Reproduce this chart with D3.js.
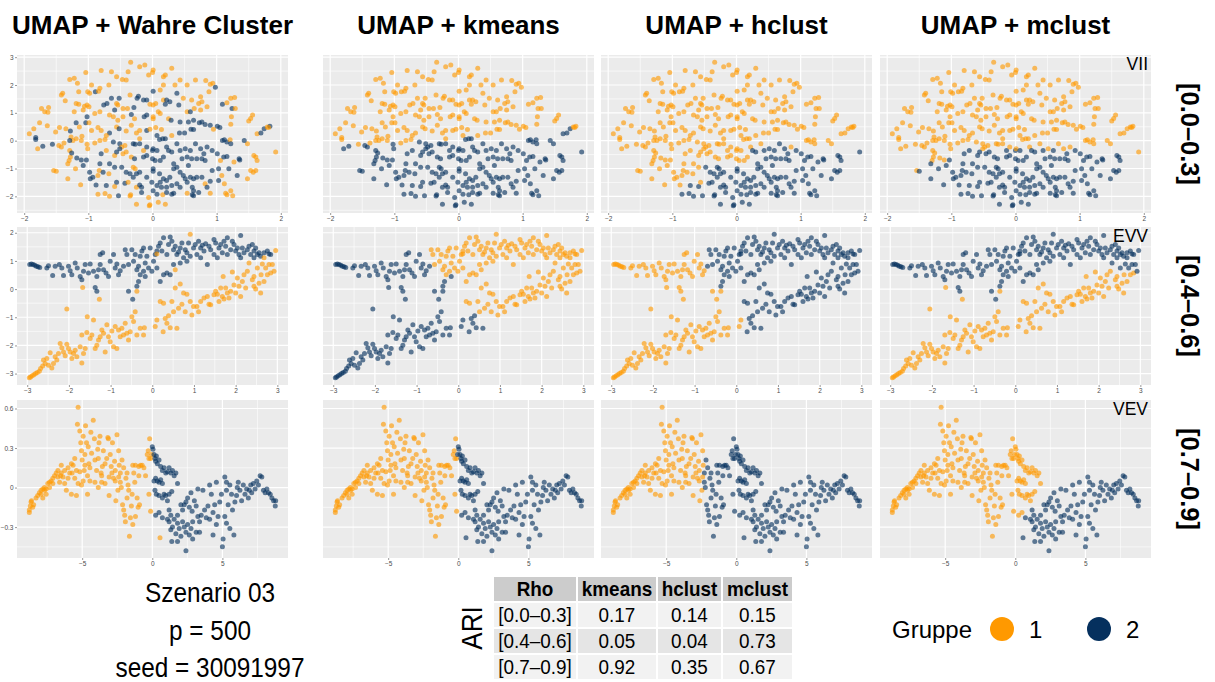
<!DOCTYPE html>
<html>
<head>
<meta charset="utf-8">
<script src="https://cdn.jsdelivr.net/npm/d3@7"></script>
<style>
  body { margin: 0; background: #ffffff; }
  svg { display: block; font-family: "Liberation Sans", Arial, sans-serif; }
</style>
</head>
<body>
<svg id="chart" width="1215" height="682"></svg>
<script>
// ---------- data ----------
const methodTitles = ["UMAP + Wahre Cluster", "UMAP + kmeans", "UMAP + hclust", "UMAP + mclust"];
const rhoBins = ["[0.0–0.3]", "[0.4–0.6]", "[0.7–0.9]"];
const mclustModels = ["VII", "EVV", "VEV"];
const groups = ["1", "2"];

const xTicksByRow = [[-2, -1, 0, 1, 2], [-3, -2, -1, 0, 1, 2, 3], [-5, 0, 5]];
const yTicksByRow = [[-2, -1, 0, 1, 2, 3], [-3, -2, -1, 0, 1, 2], [-0.3, 0, 0.3, 0.6]];

const ariKmeans = [0.17, 0.05, 0.92];
const ariHclust = [0.14, 0.04, 0.35];
const ariMclust = [0.15, 0.73, 0.67];

const scenarioLines = ["Szenario 03", "p = 500", "seed = 30091997"];

// UMAP embedding per rho bin: [UMAP1, UMAP2, labels]; labels string = true, kmeans, hclust, mclust
const embedLow = [
[-0.34,2.82,"1111"],[-0.20,2.66,"1111"],[-0.12,2.72,"1111"],[0.01,2.54,"1111"],[0.00,2.45,"1111"],[0.30,2.60,"1111"],
[-0.80,2.52,"1111"],[-0.64,2.48,"1111"],[-0.56,2.30,"1111"],[-0.38,2.48,"1111"],[-1.04,2.45,"1111"],[-1.22,2.24,"1111"],
[-1.29,2.20,"1111"],[-1.17,2.06,"1111"],[-0.95,2.00,"1111"],[-0.68,2.00,"1111"],[-0.47,2.20,"1111"],[-0.41,2.18,"1111"],
[-0.06,2.36,"1111"],[0.17,2.30,"1111"],[0.20,2.36,"1111"],[0.43,2.18,"1111"],[0.35,2.00,"1111"],[0.54,2.00,"1111"],
[0.67,2.18,"1111"],[0.83,2.16,"1111"],[0.90,2.03,"1111"],[0.94,2.06,"1111"],[0.98,1.92,"2111"],[0.01,1.78,"2111"],
[0.17,2.00,"1111"],[0.12,1.82,"1111"],[-0.82,1.88,"1111"],[-0.89,1.76,"2111"],[-0.84,1.78,"1111"],[-0.98,1.70,"1111"],
[-1.01,1.76,"1111"],[-1.42,1.64,"1111"],[-1.40,1.70,"1111"],[-1.15,1.76,"1111"],[-0.64,1.52,"2111"],[-0.52,1.52,"2111"],
[-0.35,1.64,"1111"],[-0.22,1.60,"2111"],[-0.24,1.52,"2111"],[-0.14,1.46,"2111"],[-0.09,1.46,"2111"],[0.05,1.34,"1111"],
[0.17,1.46,"1111"],[0.22,1.46,"2111"],[0.27,1.40,"2111"],[0.38,1.70,"2111"],[0.48,1.52,"1111"],[0.61,1.46,"1111"],
[0.75,1.58,"1111"],[0.77,1.40,"1111"],[0.88,1.76,"1111"],[0.72,1.34,"1111"],
[-1.36,1.43,"1111"],[-1.19,1.34,"1111"],[-1.15,1.31,"1111"],[-1.02,1.28,"1111"],[-0.99,1.22,"1111"],[-1.06,1.24,"1111"],
[-1.73,1.16,"1111"],[-1.62,1.19,"1111"],[-1.68,1.04,"1111"],[-1.63,1.02,"1111"],[-0.76,1.28,"2111"],[-0.71,1.34,"2111"],
[-0.56,1.34,"1111"],[-0.54,1.28,"1111"],[-0.59,1.10,"2111"],[-0.46,1.16,"1111"],[-0.39,1.16,"1111"],[-0.29,1.19,"2111"],
[-0.04,1.31,"1111"],[0.01,1.28,"1111"],[0.20,1.31,"2111"],[0.41,1.28,"2111"],[0.54,1.04,"1111"],[0.59,1.04,"2111"],
[0.65,1.16,"1111"],[0.75,1.10,"1111"],[0.85,1.22,"1111"],[1.09,1.31,"2111"],[1.16,1.36,"1111"],[1.22,1.52,"1111"],
[1.28,1.55,"1111"],[1.24,1.16,"2111"],[1.29,1.16,"1111"],[-1.22,1.04,"1111"],[-1.08,1.10,"1111"],[-0.82,1.04,"1111"],
[-0.90,0.98,"1111"],[-0.67,0.92,"1111"],[-1.02,0.86,"2111"],[-0.61,0.86,"1111"],[-0.54,0.73,"1111"],[-0.46,0.86,"1111"],
[-0.33,0.94,"2111"],[-0.28,0.79,"1111"],[-0.09,0.92,"2111"],[-0.13,0.86,"2111"],[0.09,1.04,"1111"],[0.12,0.98,"1111"],
[0.01,0.86,"1111"],[0.01,0.79,"1111"],[0.25,0.79,"1111"],[0.29,0.73,"2111"],[0.43,0.67,"2111"],[0.56,0.67,"2111"],
[0.64,0.73,"2111"],[0.73,0.64,"2111"],[0.77,0.67,"2111"],[0.82,0.58,"2111"],[0.90,0.55,"2111"],[1.01,0.52,"2111"],
[1.05,0.47,"2111"],[0.95,0.41,"1111"],[1.22,0.59,"1111"],[1.23,0.86,"1111"],[1.53,0.80,"1111"],[1.56,0.92,"1111"],
[1.50,0.71,"1111"],[1.63,0.25,"1211"],[1.69,0.28,"2211"],[1.74,0.43,"2211"],[1.79,0.49,"1111"],[1.83,0.52,"2111"],
[1.81,0.47,"1111"],[1.92,-0.41,"1221"],[1.48,-0.11,"1211"],[1.43,0.01,"2211"],[-1.85,0.43,"1111"],[-1.76,0.64,"1111"],
[-1.64,0.54,"1111"],[-1.51,0.31,"1111"],[-1.45,0.47,"1111"],[-1.35,0.43,"1111"],[-1.28,0.35,"2111"],[-1.19,0.64,"2111"],
[-1.14,0.49,"1111"],[-1.04,0.64,"2111"],[-0.99,0.64,"1111"],[-1.27,0.13,"1111"],[-1.24,0.01,"1111"],[-1.10,0.16,"1111"],
[-0.95,0.37,"1111"],[-0.85,0.47,"1111"],[-0.80,0.37,"1111"],[-0.67,0.28,"2111"],[-0.72,0.19,"1111"],[-0.56,0.49,"1111"],
[-0.52,0.43,"2111"],[-0.41,0.35,"1111"],[-0.33,0.55,"1111"],[-0.25,0.28,"1111"],[-0.20,0.37,"1111"],[-0.09,0.37,"2111"],
[-0.04,0.41,"1111"],[0.05,0.47,"1111"],[0.07,0.19,"2111"],[0.14,0.40,"1111"],[0.20,0.07,"2211"],[0.16,0.07,"2211"],
[0.11,0.04,"2211"],[0.30,0.19,"1111"],[0.42,0.28,"2111"],[0.50,0.28,"2111"],[0.60,0.41,"2111"],[0.64,0.40,"2111"],
[-1.92,0.25,"1111"],[-1.82,0.11,"2111"],[-1.82,0.04,"2111"],[-1.71,-0.20,"2211"],[-1.79,-0.29,"1211"],[-1.56,-0.13,"2111"],
[-1.46,-0.17,"1211"],[-1.42,-0.23,"1211"],[-1.38,-0.08,"1111"],[-1.29,0.01,"2111"],[-1.19,0.07,"1111"],[-1.11,0.01,"1111"],
[-1.02,-0.13,"1211"],[-1.01,-0.29,"1211"],[-0.90,-0.08,"1111"],[-0.82,0.01,"1111"],[-0.74,0.04,"1111"],[-0.80,-0.47,"2212"],
[-0.72,-0.35,"1212"],[-0.61,-0.05,"2211"],[-0.51,-0.11,"2211"],[-0.48,-0.23,"1211"],[-0.51,-0.29,"2211"],[-0.43,-0.17,"1211"],
[-0.30,-0.11,"2211"],[-0.27,-0.13,"2211"],[-0.20,-0.11,"2211"],[-0.20,0.07,"1111"],[-0.14,-0.35,"1212"],[-0.09,-0.23,"2211"],
[0.00,-0.35,"2212"],[0.01,-0.29,"2211"],[0.07,-0.35,"2212"],[0.22,-0.23,"2211"],[0.25,-0.35,"2222"],[0.30,-0.41,"2222"],
[0.38,-0.11,"2211"],[0.43,-0.35,"2222"],[0.51,-0.29,"2221"],[0.59,-0.35,"2222"],[0.67,-0.11,"2221"],[0.75,-0.29,"2221"],
[0.80,-0.47,"2222"],[0.85,-0.23,"2211"],[0.93,-0.35,"2222"],[1.01,-0.47,"2222"],[1.09,0.01,"2211"],[1.12,0.03,"2211"],
[1.16,-0.05,"2211"],[1.21,0.03,"1211"],[1.22,-0.11,"2211"],[1.58,-0.53,"1222"],[1.61,-0.59,"1222"],[1.63,-0.71,"1222"],
[-1.29,-0.35,"1211"],[-1.30,-0.71,"1211"],[-1.28,-0.59,"1211"],[-1.26,-0.44,"2211"],[-1.18,-0.62,"2211"],[-1.11,-0.69,"2211"],
[-1.03,-0.69,"2212"],[-1.08,-0.89,"2212"],[-0.82,-0.83,"2212"],[-0.67,-0.83,"2212"],[-0.59,-0.53,"1212"],[-0.56,-0.41,"2212"],
[-0.46,-0.47,"1212"],[-0.41,-0.41,"1212"],[-0.33,-0.59,"1212"],[-0.28,-0.65,"2212"],[-0.14,-0.59,"2212"],[-0.09,-0.53,"2212"],
[0.00,-0.65,"2212"],[0.04,-0.71,"2212"],[0.12,-0.71,"2212"],[0.17,-0.59,"2212"],[0.33,-0.83,"2222"],[0.38,-0.95,"2222"],
[0.46,-0.65,"2222"],[0.54,-0.59,"2222"],[0.61,-0.65,"2222"],[0.69,-0.65,"2222"],[0.77,-0.65,"2222"],[0.82,-0.71,"2222"],
[1.06,-0.71,"1222"],[1.11,-0.59,"2222"],[1.16,-0.57,"2222"],[1.27,-0.77,"1222"],[1.35,-0.65,"2222"],[1.36,-0.69,"2222"],
[-1.54,-1.07,"1211"],[-1.50,-1.10,"1212"],[-1.32,-0.83,"1212"],[-1.20,-1.01,"1212"],[-1.32,-1.37,"1212"],[-1.12,-1.58,"1212"],
[-0.98,-1.13,"2212"],[-0.93,-1.31,"2212"],[-0.97,-1.37,"2212"],[-0.83,-1.07,"1212"],[-0.85,-1.25,"1212"],[-0.77,-1.13,"2212"],
[-0.68,-1.19,"1212"],[-0.59,-0.95,"2212"],[-0.48,-0.95,"2222"],[-0.41,-1.13,"2222"],[-0.30,-0.95,"1222"],[-0.27,-1.01,"1222"],
[-0.35,-1.19,"2222"],[-0.30,-1.31,"2222"],[-0.25,-1.19,"2222"],[-0.20,-1.13,"2222"],[-0.09,-1.31,"2222"],[0.01,-1.01,"2222"],
[0.01,-1.10,"2222"],[0.11,-1.19,"2222"],[0.17,-1.37,"2222"],[0.22,-1.43,"2222"],[0.27,-1.31,"2222"],[0.33,-1.01,"2222"],
[0.43,-1.13,"2222"],[0.48,-1.25,"2222"],[0.56,-0.89,"2222"],[0.59,-1.31,"2222"],[0.64,-1.37,"2222"],[0.69,-1.31,"2222"],
[0.77,-1.31,"2222"],[0.93,-1.07,"2222"],[1.03,-1.01,"2222"],[1.08,-1.25,"1222"],[1.19,-1.01,"2222"],[1.32,-1.25,"2222"],
[1.48,-1.37,"1222"],[1.57,-1.13,"1222"],[1.61,-1.07,"1222"],[1.53,-1.07,"1222"],[-0.88,-1.59,"2212"],[-0.72,-1.61,"2222"],
[-0.59,-1.65,"1222"],[-0.56,-1.49,"2212"],[-0.43,-1.53,"2222"],[-0.38,-1.49,"1222"],[-0.25,-1.67,"1222"],[-0.20,-1.59,"2222"],
[-0.17,-1.67,"2222"],[-0.01,-1.49,"2222"],[0.07,-1.61,"2222"],[0.12,-1.49,"2222"],[0.14,-1.67,"2222"],[0.22,-1.67,"2222"],
[0.30,-1.61,"2222"],[0.38,-1.55,"2222"],[0.43,-1.67,"2222"],[0.51,-1.37,"2222"],[0.54,-1.49,"2222"],[0.62,-1.67,"2222"],
[0.64,-1.80,"2222"],[0.82,-1.55,"1222"],[0.85,-1.67,"2222"],[0.90,-1.46,"2222"],[1.03,-1.43,"2222"],[1.12,-1.55,"1222"],
[1.22,-1.80,"1222"],[-0.85,-1.92,"1222"],[-0.74,-1.90,"1222"],[-0.67,-2.00,"1222"],[-0.53,-1.98,"2222"],[-0.34,-1.94,"1222"],
[-0.35,-1.99,"1222"],[-0.17,-1.86,"2222"],[-0.06,-2.04,"1222"],[0.01,-1.80,"2222"],[0.07,-1.92,"2222"],[0.16,-1.94,"1222"],
[0.22,-1.86,"2222"],[0.30,-1.92,"2222"],[0.33,-1.89,"2222"],[0.54,-1.89,"1222"],[0.62,-1.94,"2222"],[0.64,-1.98,"2222"],
[0.72,-1.86,"2222"],[0.90,-1.89,"1222"],[1.14,-1.89,"1222"],[1.16,-1.94,"1222"],[1.25,-1.98,"1222"],[-0.25,-2.28,"1222"],
[-0.05,-2.34,"1222"],[-0.04,-2.30,"1222"],[0.09,-2.21,"1222"],[0.20,-2.28,"1222"]
];

const embedMid = [
[-2.94,0.87,"2212"],[-2.90,0.89,"2212"],[-2.86,0.87,"2212"],[-2.82,0.85,"2212"],[-2.78,0.81,"2212"],[-2.74,0.79,"2212"],
[-2.70,0.77,"2212"],[-2.53,0.75,"2212"],[-2.49,0.83,"2212"],[-2.39,0.48,"2212"],[-2.33,0.81,"2212"],[-2.23,0.87,"2212"],
[-2.17,0.75,"2212"],[-2.13,0.48,"2212"],[-2.01,0.81,"2212"],[-1.97,0.65,"2212"],[-1.93,0.51,"2212"],[-1.85,0.93,"2212"],
[-1.80,0.75,"2212"],[-1.73,0.45,"2212"],[-1.69,0.33,"2212"],[-1.65,0.63,"2212"],[-1.61,0.87,"2212"],[-1.53,0.57,"2212"],
[-1.49,0.89,"2212"],[-1.41,0.63,"2212"],[-1.33,0.45,"2212"],[-1.29,0.69,"2212"],[-1.25,1.23,"2212"],[-1.19,1.29,"2212"],
[-1.37,0.06,"2212"],[-1.33,-0.08,"2212"],[-1.25,0.87,"2212"],[-1.17,0.69,"2212"],[-1.11,0.57,"2212"],[-1.05,0.45,"2212"],
[-1.01,0.99,"2212"],[-0.93,1.23,"2212"],[-0.89,0.75,"2212"],[-0.85,0.89,"2212"],[-0.81,0.51,"2212"],[-0.77,0.65,"2212"],
[-0.69,0.81,"2222"],[-0.65,1.40,"2122"],[-0.61,1.23,"2122"],[-0.57,0.87,"2122"],[-0.49,1.40,"2122"],[-0.45,0.99,"2122"],
[-0.41,1.23,"2122"],[-0.37,0.69,"2122"],[-0.33,0.81,"2122"],[-0.29,1.17,"2122"],[-0.25,1.35,"2122"],[-0.21,1.46,"2122"],
[-0.17,0.93,"2122"],[-0.13,1.17,"2122"],[-0.09,0.75,"2122"],[-0.05,1.46,"2122"],[0.03,0.99,"2122"],[0.07,1.23,"2122"],
[0.11,1.35,"2122"],[0.15,1.52,"2122"],[0.19,1.64,"2122"],[0.23,1.35,"2122"],[0.27,1.82,"2122"],[0.35,1.23,"2122"],
[0.39,1.58,"2122"],[0.43,1.85,"2122"],[0.47,1.70,"2122"],[0.51,1.40,"2122"],[0.55,1.52,"2122"],[0.59,1.23,"2122"],
[0.63,1.32,"2122"],[0.67,1.46,"2122"],[0.71,1.64,"2122"],[0.75,1.11,"2122"],[0.79,1.40,"2122"],[0.83,1.29,"2122"],
[0.87,1.64,"2122"],[0.91,1.17,"2122"],[0.99,1.46,"2122"],[1.03,1.58,"2122"],[1.07,1.23,"2122"],[1.11,1.70,"2122"],
[1.16,1.46,"2122"],[1.20,1.56,"2122"],[1.24,1.35,"2122"],[1.28,1.61,"2122"],[1.32,0.87,"2122"],[1.36,1.52,"2122"],
[1.40,1.40,"2122"],[1.48,1.76,"2122"],[1.52,1.64,"2122"],[1.56,1.11,"2122"],[1.60,1.46,"2122"],[1.64,1.58,"2122"],
[1.68,1.29,"2122"],[1.72,1.70,"2122"],[1.76,1.52,"2122"],[1.80,1.82,"2122"],[1.88,1.40,"2122"],[1.92,1.70,"2122"],
[1.96,1.58,"2122"],[2.00,1.35,"2122"],[2.04,1.46,"2122"],[2.08,1.23,"2122"],[2.12,1.90,"2122"],[2.16,1.46,"2122"],
[2.20,1.29,"2122"],[2.28,1.40,"2122"],[2.32,1.52,"2122"],[2.36,1.23,"2122"],[2.40,1.58,"2122"],[2.44,1.35,"2122"],
[2.48,1.46,"2122"],[2.52,1.23,"2122"],[2.56,1.29,"2122"],[2.60,1.17,"2122"],[2.68,1.29,"2122"],[2.76,1.35,"2122"],
[2.80,1.25,"2122"],[2.84,1.23,"2122"],
[-0.37,0.10,"2222"],[-0.57,-0.08,"2212"],[-0.47,-0.36,"2212"],[-0.33,0.27,"2222"],[-0.29,0.51,"2122"],[-0.21,0.63,"2122"],
[0.19,0.27,"2122"],[0.27,0.51,"2122"],[0.35,0.57,"2122"],[0.43,0.51,"2122"],[-0.17,0.45,"2222"],[-0.01,0.63,"2122"],
[0.11,0.75,"2122"],[0.51,0.87,"2122"],[0.67,0.93,"2122"],[0.83,0.99,"2122"],[1.16,1.11,"2122"],[1.48,1.23,"2122"],
[1.80,1.23,"2122"],[2.12,1.11,"2122"],[2.44,1.11,"2122"],
[0.91,1.95,"1122"],[0.11,1.25,"1122"],[0.55,0.69,"1122"],[-1.67,0.06,"1211"],[-0.37,-0.08,"1211"],[-1.27,-0.36,"1211"],
[-2.05,-0.71,"1211"],
[-2.95,-3.15,"1211"],[-2.92,-3.12,"1211"],[-2.88,-3.08,"1211"],[-2.84,-3.04,"1211"],[-2.80,-3.00,"1211"],[-2.76,-2.96,"1211"],
[-2.71,-2.92,"1211"],[-2.68,-2.82,"1211"],[-2.63,-2.73,"1211"],[-2.57,-2.64,"1211"],[-2.61,-2.52,"1211"],[-2.53,-2.46,"1211"],
[-2.49,-2.70,"1211"],[-2.45,-2.26,"1211"],[-2.41,-2.80,"1211"],[-2.37,-2.64,"1211"],[-2.33,-2.40,"1211"],[-2.29,-2.52,"1211"],
[-2.25,-2.29,"1211"],[-2.21,-1.93,"1211"],[-2.17,-2.08,"1211"],[-2.13,-2.23,"1211"],[-2.09,-2.37,"1211"],[-2.05,-1.96,"1211"],
[-2.01,-2.11,"1211"],[-1.97,-2.23,"1211"],[-1.93,-2.46,"1211"],[-1.89,-2.29,"1211"],[-1.85,-2.17,"1211"],[-1.81,-2.40,"1211"],
[-1.73,-2.05,"1211"],[-1.69,-2.62,"1211"],[-1.69,-1.63,"1211"],[-1.65,-2.29,"1211"],[-1.61,-2.11,"1211"],[-1.57,-1.54,"1211"],
[-1.56,-0.98,"1211"],[-1.49,-1.75,"1211"],[-1.45,-1.63,"1211"],[-1.41,-1.10,"1211"],[-1.37,-2.11,"1211"],[-1.33,-1.99,"1211"],
[-1.29,-1.81,"1211"],[-1.25,-1.69,"1211"],[-1.21,-1.45,"1211"],[-1.17,-1.57,"1211"],[-1.13,-2.23,"1211"],[-1.09,-1.27,"1211"],
[-1.05,-1.69,"1211"],[-1.01,-1.87,"1211"],[-0.97,-1.49,"1211"],[-0.93,-2.05,"1211"],[-0.89,-1.33,"1211"],[-0.85,-2.11,"1211"],
[-0.81,-1.45,"1211"],[-0.77,-1.69,"1211"],[-0.73,-1.39,"1211"],[-0.69,-1.63,"1211"],[-0.65,-1.21,"1211"],[-0.61,-1.57,"1211"],
[-0.57,-1.81,"1211"],[-0.53,-1.51,"1211"],[-0.49,-0.98,"1211"],[-0.45,-1.15,"1211"],[-0.41,-0.80,"1211"],[-0.37,-1.63,"1211"],
[-0.29,-1.39,"1211"],[-0.21,-1.63,"1211"],[-0.19,-1.37,"1211"],[0.07,-1.33,"1211"],[0.11,-1.10,"1211"],[0.19,-0.44,"1121"],
[0.26,-1.51,"1221"],[0.27,-0.50,"1121"],[0.31,-1.04,"1221"],[0.35,-1.21,"1221"],[0.39,-0.95,"1221"],[0.43,-1.37,"1221"],
[0.47,-0.44,"1121"],[0.51,-0.80,"1121"],[0.55,0.04,"1121"],[0.59,-1.39,"1221"],[0.63,-0.68,"1121"],[0.67,0.18,"1121"],
[0.71,-0.54,"1121"],[0.75,-0.14,"1121"],[0.79,-0.80,"1121"],[0.83,-0.18,"1121"],[0.91,-0.44,"1121"],[0.95,-0.92,"1121"],
[0.99,-0.62,"1121"],[1.07,-0.62,"1121"],[1.11,-0.80,"1121"],[1.16,-0.44,"1121"],[1.24,-0.32,"1121"],[1.32,-0.26,"1121"],
[1.36,-0.54,"1121"],[1.40,-0.56,"1121"],[1.48,-0.20,"1121"],[1.52,-0.08,"1121"],[1.56,-0.18,"1121"],[1.60,-0.44,"1121"],
[1.64,0.04,"1121"],[1.68,-0.26,"1121"],[1.70,0.45,"1121"],[1.72,-0.35,"1121"],[1.76,0.04,"1121"],[1.80,-0.14,"1121"],
[1.84,-0.32,"1121"],[1.88,-0.08,"1121"],[1.92,0.61,"1121"],[1.96,0.15,"1121"],[2.00,-0.14,"1121"],[2.04,0.39,"1121"],
[2.08,0.10,"1121"],[2.12,-0.26,"1121"],[2.16,0.27,"1121"],[2.20,0.51,"1121"],[2.24,0.04,"1121"],[2.28,0.63,"1121"],
[2.32,0.93,"1122"],[2.40,0.33,"1121"],[2.44,0.45,"1121"],[2.48,0.00,"1121"],[2.52,0.75,"1122"],[2.56,0.21,"1121"],
[2.60,-0.14,"1121"],[2.61,0.51,"1121"],[2.64,0.89,"1122"],[2.68,1.11,"1122"],[2.72,0.75,"1122"],[2.76,0.51,"1121"],
[2.80,0.87,"1122"],[2.84,0.57,"1121"],[2.88,0.87,"1122"],[2.92,0.63,"1122"],[2.96,1.37,"1122"],[2.68,0.27,"1121"],
[2.44,0.10,"1121"]
];

const embedHigh = [
[-8.77,-0.19,"1111"],[-8.77,-0.17,"1111"],[-8.70,-0.14,"1111"],[-8.65,-0.11,"1111"],[-8.61,-0.10,"1111"],[-8.46,-0.13,"1111"],
[-8.53,-0.15,"1111"],[-8.29,-0.08,"1111"],[-8.17,-0.06,"1111"],[-8.05,-0.04,"1111"],[-7.93,-0.02,"1111"],[-7.81,-0.01,"1111"],
[-7.93,-0.05,"1111"],[-7.69,-0.02,"1111"],[-7.69,0.00,"1111"],[-7.57,-0.01,"1111"],[-7.45,0.03,"1111"],[-7.33,0.04,"1111"],
[-7.21,0.05,"1111"],[-7.09,0.03,"1111"],[-6.97,0.09,"1111"],[-6.85,0.11,"1111"],[-6.73,0.08,"1111"],[-6.61,0.04,"1111"],
[-6.54,0.09,"1111"],[-6.49,0.11,"1111"],[-6.37,0.08,"1111"],[-6.25,0.13,"1111"],[-6.25,0.03,"1111"],[-6.13,-0.02,"1111"],
[-6.01,0.07,"1111"],[-5.89,0.11,"1111"],[-5.77,-0.05,"1111"],[-5.72,0.11,"1111"],[-5.65,0.17,"1111"],[-5.53,0.22,"1111"],
[-5.53,0.07,"1111"],[-5.41,-0.06,"1111"],[-5.34,0.48,"1111"],[-5.29,0.61,"1111"],[-5.17,0.43,"1111"],[-5.10,0.34,"1111"],
[-5.05,0.28,"1111"],[-5.00,0.21,"1111"],[-4.93,0.39,"1111"],[-4.86,0.13,"1111"],[-4.81,0.25,"1111"],[-4.76,0.47,"1111"],
[-4.69,0.34,"1111"],[-4.62,0.09,"1111"],[-4.57,0.31,"1111"],[-4.52,0.18,"1111"],[-4.45,0.15,"1111"],[-4.38,0.42,"1111"],
[-4.33,0.26,"1111"],[-4.21,0.51,"1111"],[-4.13,0.37,"1111"],[-4.09,0.21,"1111"],[-3.97,0.13,"1111"],[-3.89,0.29,"1111"],
[-3.85,0.22,"1111"],[-3.80,0.34,"1111"],[-3.73,0.39,"1111"],[-3.65,0.11,"1111"],[-3.61,0.04,"1111"],[-3.56,0.16,"1111"],
[-3.49,0.28,"1111"],[-3.37,0.18,"1111"],[-3.25,0.22,"1111"],[-3.17,0.38,"1111"],[-3.13,0.37,"1111"],[-3.08,-0.06,"1111"],
[-3.00,0.25,"1111"],[-2.93,0.16,"1111"],[-2.88,0.11,"1111"],[-2.84,0.34,"1111"],[-2.76,0.07,"1111"],[-2.69,0.20,"1111"],
[-2.64,0.13,"1111"],[-2.60,-0.10,"1111"],[-2.52,0.40,"1111"],[-2.45,-0.02,"1111"],[-2.40,0.28,"1111"],[-2.36,0.17,"1111"],
[-2.28,0.11,"1121"],[-2.21,0.00,"1121"],[-2.16,0.21,"1121"],[-2.12,-0.13,"1121"],[-2.04,-0.17,"1121"],[-1.97,-0.21,"1121"],
[-1.92,-0.26,"1121"],[-1.88,0.07,"1121"],[-1.80,-0.08,"1121"],[-1.73,0.02,"1121"],[-1.68,-0.02,"1121"],[-1.63,-0.37,"1121"],
[-1.56,-0.23,"1121"],[-1.49,-0.14,"1121"],[-1.44,-0.05,"1121"],[-1.39,0.17,"1121"],[-1.32,0.11,"1121"],[-1.25,0.04,"1121"],
[-1.20,0.17,"1121"],[-1.08,-0.08,"1121"],[-1.01,-0.15,"1121"],[-0.96,0.16,"1121"],[-0.91,-0.13,"1121"],[-0.84,0.17,"1121"],
[-0.72,0.17,"1121"],[-0.60,0.15,"1121"],[-0.48,0.09,"1121"],[-0.36,0.25,"1121"],[-0.29,0.28,"1121"],[-0.24,0.22,"1121"],
[-0.19,0.37,"1121"],[-0.12,0.22,"1121"],[-0.12,-0.18,"1121"],[-0.05,0.25,"1221"],[-0.24,-0.05,"1121"],[-0.96,0.09,"1121"],
[-1.80,0.11,"1121"],[-2.04,0.15,"1121"],[-2.40,0.08,"1111"],[-3.08,0.08,"1111"],[-3.61,0.09,"1111"],[-4.09,0.04,"1111"],
[-4.45,0.05,"1111"],[-4.93,0.05,"1111"],[-5.17,0.12,"1111"],[-5.41,0.13,"1111"],[-5.77,0.18,"1111"],[-6.01,0.15,"1111"],
[-6.49,0.17,"1111"],[-6.73,0.13,"1111"],[-7.09,0.07,"1111"],[-7.33,0.00,"1111"],[-7.57,-0.05,"1111"],[-7.81,-0.08,"1111"],
[-5.05,0.02,"1111"],[-5.29,0.03,"1111"],[-4.81,0.17,"1111"],[-4.62,-0.05,"1111"],[-3.85,0.00,"1111"],[-3.37,0.03,"1111"],
[-2.64,0.05,"1111"],[-2.28,0.04,"1121"],[-1.39,-0.28,"1121"],[-1.20,-0.22,"1121"],[0.55,-0.38,"1222"],
[0.00,0.31,"2221"],[0.05,0.29,"2221"],[0.12,0.25,"2221"],[0.19,0.22,"2221"],[0.24,0.20,"2221"],[0.29,0.24,"2221"],
[0.36,0.18,"2221"],[0.48,0.21,"2221"],[0.60,0.16,"2221"],[0.72,0.13,"2221"],[0.84,0.15,"2221"],[0.96,0.11,"2221"],
[1.08,0.12,"2221"],[1.20,0.15,"2221"],[1.32,0.11,"2221"],[1.44,0.13,"2221"],[1.56,0.09,"2221"],[1.68,0.11,"2221"],
[1.80,0.03,"2221"],[0.12,0.05,"2221"],[0.24,0.07,"2221"],[0.36,0.05,"2221"],[0.48,0.04,"2221"],[0.60,0.06,"2221"],
[0.72,0.03,"2221"],[0.19,-0.02,"2221"],[0.29,-0.05,"2221"],[0.48,-0.06,"2221"],[0.72,-0.08,"2221"],[0.84,-0.05,"2221"],
[0.96,-0.06,"2221"],[1.20,-0.05,"2221"],[1.39,-0.03,"2221"],[1.08,-0.10,"2221"],[1.20,-0.17,"2222"],[1.32,-0.21,"2222"],
[0.24,-0.21,"2221"],[0.48,-0.19,"2221"],[0.72,-0.23,"2222"],[1.08,-0.24,"2222"],[1.20,-0.26,"2222"],[1.32,-0.32,"2222"],
[1.44,-0.30,"2222"],[1.68,-0.35,"2222"],[1.80,-0.27,"2222"],[1.92,-0.31,"2222"],[2.04,-0.37,"2222"],[2.16,-0.26,"2222"],
[2.28,-0.30,"2222"],[2.40,-0.34,"2222"],[2.52,-0.28,"2222"],[2.64,-0.36,"2222"],[2.76,-0.31,"2222"],[2.88,-0.26,"2222"],
[2.16,-0.17,"2222"],[2.28,-0.13,"2222"],[2.40,-0.11,"2222"],[2.52,-0.08,"2222"],[2.64,-0.15,"2222"],[2.84,-0.18,"2222"],
[3.00,-0.10,"2222"],[3.13,-0.14,"2222"],[3.25,-0.22,"2222"],[3.37,-0.26,"2222"],[3.49,-0.21,"2222"],[3.61,-0.02,"2222"],
[3.73,-0.17,"2222"],[3.85,-0.23,"2222"],[3.97,-0.14,"2222"],[4.09,-0.24,"2222"],[4.21,-0.05,"2222"],[4.33,-0.19,"2222"],
[4.45,-0.13,"2222"],[4.57,-0.28,"2222"],[4.69,-0.22,"2222"],[4.81,-0.11,"2222"],[4.93,-0.05,"2222"],[5.00,-0.45,"2222"],
[5.05,-0.39,"2222"],[5.17,-0.22,"2222"],[5.29,-0.02,"2222"],[5.41,-0.13,"2222"],[5.53,0.02,"2222"],[5.65,-0.05,"2222"],
[5.72,-0.17,"2222"],[5.82,-0.36,"2222"],[5.89,-0.11,"2222"],[6.01,-0.06,"2222"],[6.06,0.00,"2222"],[6.13,0.04,"2222"],
[6.25,-0.02,"2222"],[6.37,-0.10,"2222"],[6.49,0.02,"2222"],[6.61,-0.05,"2222"],[6.73,-0.01,"2222"],[6.85,-0.08,"2222"],
[6.92,-0.02,"2222"],[7.02,0.02,"2222"],[7.09,-0.04,"2222"],[7.21,0.03,"2222"],[7.33,-0.01,"2222"],[7.45,0.05,"2222"],
[7.57,0.02,"2222"],[7.69,0.09,"2222"],[7.81,0.08,"2222"],[7.93,-0.02,"2222"],[8.05,-0.04,"2222"],[8.17,-0.01,"2222"],
[8.29,-0.04,"2222"],[8.41,-0.05,"2222"],[8.53,-0.08,"2222"],[8.65,-0.10,"2222"],[8.77,-0.14,"2222"],[8.80,-0.10,"2222"],
[5.17,0.08,"2222"],[5.29,0.04,"2222"],[4.57,0.04,"2222"],[4.09,0.02,"2222"],[3.25,-0.01,"2222"],[2.76,-0.04,"2222"],
[2.04,-0.13,"2222"],[1.80,-0.21,"2222"],[1.56,-0.24,"2222"],[1.39,-0.41,"2222"],[2.40,-0.48,"2222"],[3.37,-0.34,"2222"],
[4.33,-0.36,"2222"],[5.29,-0.27,"2222"],[5.53,-0.31,"2222"],[2.88,-0.39,"2222"],[3.13,-0.34,"2222"],[1.80,-0.41,"2222"]
];

const embeddings = [embedLow, embedMid, embedHigh];

// ---------- layout ----------
const svg = d3.select("#chart");
const panelLeft = [17, 323, 601, 880];
const panelTop = [55, 227, 400];
const panelW = 271, panelH = 158;

const color = d3.scaleOrdinal().domain(groups).range(["#FF9900", "#05305E"]);
const minus = v => d3.format("")(v).replace("-", "\u2212");

// column titles
methodTitles.forEach((t, c) => {
  svg.append("text")
    .attr("x", panelLeft[c] + panelW / 2)
    .attr("y", 34)
    .attr("text-anchor", "middle")
    .attr("font-weight", "bold")
    .attr("font-size", 26)
    .attr("fill", "#000")
    .text(t);
});

embeddings.forEach((pts, r) => {
  const [x0, x1] = d3.extent(pts, d => d[0]);
  const [y0, y1] = d3.extent(pts, d => d[1]);
  const ex = (x1 - x0) * 0.05, ey = (y1 - y0) * 0.05;
  const x = d3.scaleLinear().domain([x0 - ex, x1 + ex]).range([0, panelW]);
  const y = d3.scaleLinear().domain([y0 - ey, y1 + ey]).range([panelH, 0]);

  const xt = xTicksByRow[r], yt = yTicksByRow[r];
  const minorOf = (ticks, dom) => {
    const step = ticks[1] - ticks[0];
    const out = [];
    for (let v = ticks[0] - step / 2; v <= dom[1]; v += step) {
      if (v >= dom[0]) out.push(v);
    }
    return out;
  };
  const xMinor = minorOf(xt, x.domain());
  const yMinor = minorOf(yt, y.domain());

  for (let c = 0; c < 4; c++) {
    const g = svg.append("g").attr("transform", `translate(${panelLeft[c]},${panelTop[r]})`);
    g.append("rect").attr("width", panelW).attr("height", panelH).attr("fill", "#EBEBEB");

    // grid
    g.selectAll(".xminor").data(xMinor).join("line")
      .attr("x1", d => x(d)).attr("x2", d => x(d)).attr("y1", 0).attr("y2", panelH)
      .attr("stroke", "#fff").attr("stroke-width", 0.6);
    g.selectAll(".yminor").data(yMinor).join("line")
      .attr("y1", d => y(d)).attr("y2", d => y(d)).attr("x1", 0).attr("x2", panelW)
      .attr("stroke", "#fff").attr("stroke-width", 0.6);
    g.selectAll(".xmajor").data(xt).join("line")
      .attr("x1", d => x(d)).attr("x2", d => x(d)).attr("y1", 0).attr("y2", panelH)
      .attr("stroke", "#fff").attr("stroke-width", 1.2);
    g.selectAll(".ymajor").data(yt).join("line")
      .attr("y1", d => y(d)).attr("y2", d => y(d)).attr("x1", 0).attr("x2", panelW)
      .attr("stroke", "#fff").attr("stroke-width", 1.2);

    // points
    g.append("g").selectAll("circle").data(pts).join("circle")
      .attr("cx", d => x(d[0]))
      .attr("cy", d => y(d[1]))
      .attr("r", 2.5)
      .attr("fill", d => color(d[2][c]))
      .attr("fill-opacity", 0.62);

    // axes
    const ax = g.append("g").attr("transform", `translate(0,${panelH})`)
      .call(d3.axisBottom(x).tickValues(xt).tickSize(2).tickPadding(1.5).tickFormat(minus));
    ax.select(".domain").remove();
    ax.selectAll("line").attr("stroke", "#333").attr("stroke-width", 0.5);
    ax.selectAll("text").attr("fill", "#4D4D4D").attr("font-size", 6.5)
      .attr("font-family", "Liberation Sans, Arial, sans-serif");

    if (c === 0) {
      const ay = g.append("g")
        .call(d3.axisLeft(y).tickValues(yt).tickSize(2).tickPadding(1.5).tickFormat(minus));
      ay.select(".domain").remove();
      ay.selectAll("line").attr("stroke", "#333").attr("stroke-width", 0.5);
      ay.selectAll("text").attr("fill", "#4D4D4D").attr("font-size", 6.5)
        .attr("font-family", "Liberation Sans, Arial, sans-serif");
    }

    if (c === 3) {
      g.append("text")
        .attr("x", panelW - 3)
        .attr("y", 15)
        .attr("text-anchor", "end")
        .attr("font-size", 17.5)
        .attr("fill", "#000")
        .text(mclustModels[r]);
    }
  }

  // rho strip label
  const cy = panelTop[r] + panelH / 2;
  svg.append("text")
    .attr("transform", `translate(1190,${cy}) rotate(90)`)
    .attr("text-anchor", "middle")
    .attr("dominant-baseline", "central")
    .attr("font-weight", "bold")
    .attr("font-size", 25.5)
    .attr("fill", "#000")
    .text(rhoBins[r]);
});

// ---------- scenario caption (condensed lettering) ----------
scenarioLines.forEach((t, i) => {
  svg.append("text")
    .attr("transform", `translate(210,${602 + i * 37.5}) scale(0.87,1)`)
    .attr("text-anchor", "middle")
    .attr("font-size", 28)
    .attr("fill", "#000")
    .text(t);
});

// ---------- ARI table ----------
const tableHeader = ["Rho", "kmeans", "hclust", "mclust"];
const colEdges = [493, 577, 657, 722, 793];
const rowEdges = [576, 602, 628, 654, 680];
const fmt2 = d3.format(".2f");
const tableRows = rhoBins.map((rho, i) => [rho, fmt2(ariKmeans[i]), fmt2(ariHclust[i]), fmt2(ariMclust[i])]);
const tbl = svg.append("g");

[tableHeader, ...tableRows].forEach((row, ri) => {
  const fill = ri === 0 ? "#CCCCCC" : (ri % 2 === 1 ? "#F2F2F2" : "#E5E5E5");
  row.forEach((cell, ci) => {
    tbl.append("rect")
      .attr("x", colEdges[ci]).attr("y", rowEdges[ri])
      .attr("width", colEdges[ci + 1] - colEdges[ci]).attr("height", rowEdges[ri + 1] - rowEdges[ri])
      .attr("fill", fill).attr("stroke", "#fff").attr("stroke-width", 2);
    const cx = (colEdges[ci] + colEdges[ci + 1]) / 2;
    const cyy = (rowEdges[ri] + rowEdges[ri + 1]) / 2;
    tbl.append("text")
      .attr("transform", `translate(${cx},${cyy}) scale(0.9,1)`)
      .attr("text-anchor", "middle")
      .attr("dominant-baseline", "central")
      .attr("font-size", 21)
      .attr("font-weight", ri === 0 ? "bold" : "normal")
      .attr("fill", "#000")
      .text(cell);
  });
});

svg.append("text")
  .attr("transform", "translate(472,628) rotate(-90) scale(0.9,1)")
  .attr("text-anchor", "middle")
  .attr("dominant-baseline", "central")
  .attr("font-size", 29)
  .attr("fill", "#000")
  .text("ARI");

// ---------- legend ----------
const legend = svg.append("g");
legend.append("text").attr("x", 892).attr("y", 638).attr("font-size", 24).attr("fill", "#000").text("Gruppe");
const legendX = [1002, 1099];
groups.forEach((gname, i) => {
  legend.append("circle").attr("cx", legendX[i]).attr("cy", 629).attr("r", 12).attr("fill", color(gname));
  legend.append("text").attr("x", legendX[i] + 27).attr("y", 638).attr("font-size", 24).attr("fill", "#000").text(gname);
});
</script>
</body>
</html>
